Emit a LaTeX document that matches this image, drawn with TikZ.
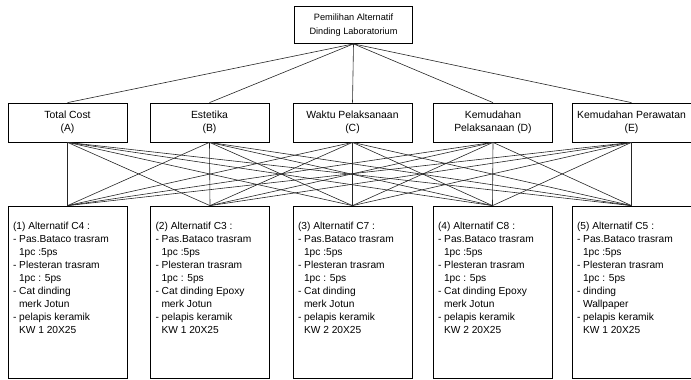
\documentclass[tikz,border=0pt]{standalone}
\usepackage{fontspec}
\setmainfont{Liberation Sans}
\begin{document}
\begin{tikzpicture}[x=1pt,y=-1pt,
  box/.style={draw, line width=0.75pt, inner sep=2pt, align=center},
  goalbox/.style={box, minimum width=118pt, minimum height=37pt,
    font=\fontsize{9.2}{14.5}\selectfont},
  crit/.style={box, minimum width=119pt, minimum height=39pt,
    font=\fontsize{10.4}{13}\selectfont},
  alt/.style={draw, line width=0.75pt, inner sep=0pt, minimum width=119pt,
    minimum height=172pt, font=\fontsize{10.2}{13}\selectfont},
  link/.style={line width=0.6pt, black!85}]
\useasboundingbox (0,0) rectangle (691,380);

% goal
\node[goalbox] (goal) at (353.5,25)
  {Pemilihan Alternatif\\Dinding Laboratorium};

% criteria
\node[crit] (A) at (67.5,122.5) {Total Cost\\(A)};
\node[crit] (B) at (209.5,122.5) {Estetika\\(B)};
\node[crit] (C) at (352.5,122.5) {Waktu Pelaksanaan\\(C)};
\node[crit] (D) at (493,122.5) {Kemudahan\\Pelaksanaan (D)};
\node[crit] (E) at (631.5,122.5) {Kemudahan Perawatan\\(E)};

% alternatives: fixed-height, top-aligned text body
\newcommand{\altbody}[1]{\begin{minipage}[t][164pt][t]{109pt}\raggedright
  \vspace*{12pt}#1\end{minipage}}
\newcommand{\cont}{\hspace*{6pt}}
\node[alt] (a1) at (67.5,292) {\altbody{(1) Alternatif C4 :\\
  - Pas.Bataco trasram\\\cont 1pc :5ps\\
  - Plesteran trasram\\\cont 1pc : 5ps\\
  - Cat dinding\\\cont merk Jotun\\
  - pelapis keramik\\\cont KW 1 20X25}};
\node[alt] (a2) at (210,292) {\altbody{(2) Alternatif C3 :\\
  - Pas.Bataco trasram\\\cont 1pc :5ps\\
  - Plesteran trasram\\\cont 1pc : 5ps\\
  - Cat dinding Epoxy\\\cont merk Jotun\\
  - pelapis keramik\\\cont KW 1 20X25}};
\node[alt] (a3) at (352.5,292) {\altbody{(3) Alternatif C7 :\\
  - Pas.Bataco trasram\\\cont 1pc :5ps\\
  - Plesteran trasram\\\cont 1pc : 5ps\\
  - Cat dinding\\\cont merk Jotun\\
  - pelapis keramik\\\cont KW 2 20X25}};
\node[alt] (a4) at (492.5,292) {\altbody{(4) Alternatif C8 :\\
  - Pas.Bataco trasram\\\cont 1pc :5ps\\
  - Plesteran trasram\\\cont 1pc : 5ps\\
  - Cat dinding Epoxy\\\cont merk Jotun\\
  - pelapis keramik\\\cont KW 2 20X25}};
\node[alt] (a5) at (631.5,292) {\altbody{(5) Alternatif C5 :\\
  - Pas.Bataco trasram\\\cont 1pc :5ps\\
  - Plesteran trasram\\\cont 1pc : 5ps\\
  - dinding\\\cont Wallpaper\\
  - pelapis keramik\\\cont KW 1 20X25}};

% goal to criteria
\foreach \c in {A,B,C,D,E}
  \draw[link] (goal.south) -- (\c.north);

% every criterion to every alternative
\foreach \c in {A,B,C,D,E}
  \foreach \a in {a1,a2,a3,a4,a5}
    \draw[link] (\c.south) -- (\a.north);
\end{tikzpicture}
\end{document}
